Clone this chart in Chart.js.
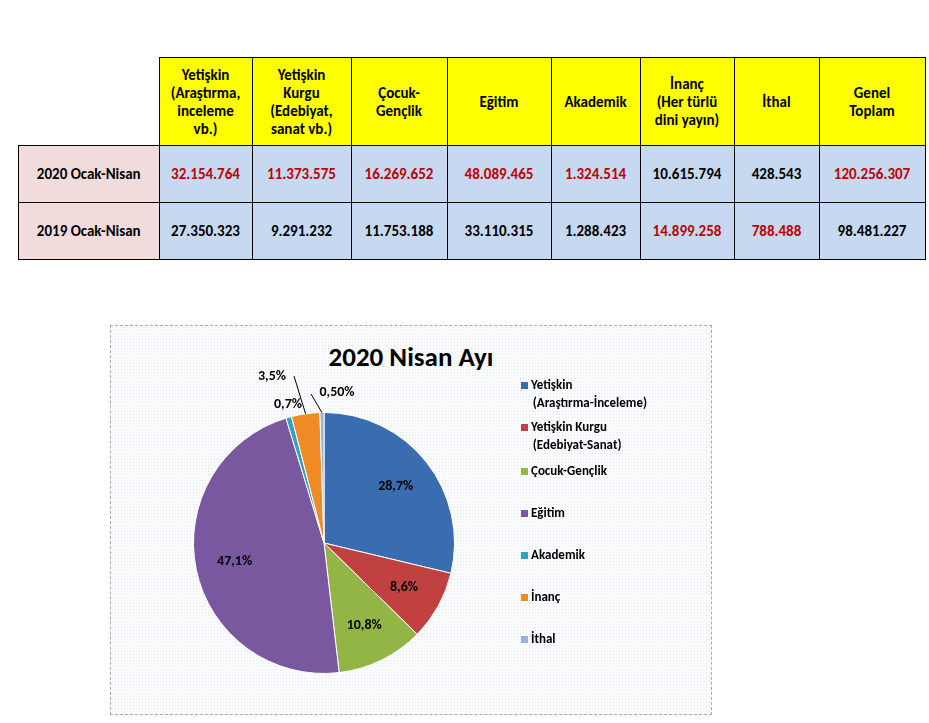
<!DOCTYPE html>
<html><head><meta charset="utf-8">
<script src="https://cdn.jsdelivr.net/npm/chart.js@4"></script>
<style>
body{margin:0;background:#fff;font-family:Calibri,Carlito,"Liberation Sans",Arial,sans-serif;width:929px;height:723px;position:relative;overflow:hidden}
table{position:absolute;left:18px;top:57px;border-collapse:collapse;font-weight:bold;font-size:15px}
td{border:1px solid #000;text-align:center;padding:0}
.h{background:#ffff00;height:87px}
.r{background:#f2dcdb}
.d{background:#c6d9f1}
.red{color:#c00000}
#box{position:absolute;left:110px;top:325px;width:600px;height:388px;border:1px dashed #aaa;
background-color:#fbfcfd;background-image:radial-gradient(#e4e8ee 0.6px,transparent 0.8px);background-size:3px 3px}
#title{position:absolute;left:0;width:600px;top:14px;text-align:center;font-size:27px;font-weight:bold}
#leg{position:absolute;left:410px;top:50px;font-size:13px;font-weight:bold;line-height:18px}
#leg div{position:absolute;white-space:nowrap}
#leg span{display:inline-block;width:7px;height:7px;margin-right:3px}
</style></head><body>
<table id="tbl"></table>
<div id="box">
<div id="title">2020 Nisan Ayı</div>
<div style="position:absolute;left:0;top:0;width:440px;height:388px"><canvas id="c"></canvas></div>
<div id="leg"></div>
</div>
<script>
const columns=["Yetişkin<br>(Araştırma,<br>inceleme<br>vb.)","Yetişkin<br>Kurgu<br>(Edebiyat,<br>sanat vb.)","Çocuk-<br>Gençlik","Eğitim","Akademik","İnanç<br>(Her türlü<br>dini yayın)","İthal","Genel<br>Toplam"];
const colWidths=[140,92,98,95,103,88,93,84,105];
const rowLabels=["2020 Ocak-Nisan","2019 Ocak-Nisan"];
const row2020=["32.154.764","11.373.575","16.269.652","48.089.465","1.324.514","10.615.794","428.543","120.256.307"];
const row2019=["27.350.323","9.291.232","11.753.188","33.110.315","1.288.423","14.899.258","788.488","98.481.227"];
const red2020=[1,1,1,1,1,0,0,1];
const red2019=[0,0,0,0,0,1,1,0];
let h='<tr><td style="border:none;border-right:1px solid #000;border-bottom:1px solid #000;width:'+colWidths[0]+'px"></td>';
columns.forEach((c,i)=>h+='<td class="h" style="width:'+colWidths[i+1]+'px">'+c+'</td>');
h+='</tr>';
[[row2020,red2020],[row2019,red2019]].forEach((r,k)=>{
 h+='<tr style="height:57px"><td class="r">'+rowLabels[k]+'</td>';
 r[0].forEach((v,i)=>h+='<td class="d'+(r[1][i]?' red':'')+'">'+v+'</td>');
 h+='</tr>';
});
document.getElementById('tbl').innerHTML=h;

const pieLabels=[["Yetişkin","(Araştırma-İnceleme)"],["Yetişkin Kurgu","(Edebiyat-Sanat)"],["Çocuk-Gençlik"],["Eğitim"],["Akademik"],["İnanç"],["İthal"]];
const pieValues=[28.7,8.6,10.8,47.1,0.7,3.5,0.5];
const pieText=["28,7%","8,6%","10,8%","47,1%","0,7%","3,5%","0,50%"];
const colors=["#3a6cb0","#c0413f","#93b546","#7a58a0","#32a2c0","#f08a24","#98b2d6"];
const legTops=[0,42,86,128,170,212,254];
let lg='';
pieLabels.forEach((l,i)=>{lg+='<div style="top:'+legTops[i]+'px"><span style="background:'+colors[i]+'"></span>'+l[0]+(l[1]?'<br>&nbsp;&nbsp;&nbsp;&nbsp;'+l[1]:'')+'</div>';});
document.getElementById('leg').innerHTML=lg;

const labelPlugin={id:'lbl',afterDraw(ch){
 const ctx=ch.ctx;const meta=ch.getDatasetMeta(0);
 ctx.save();ctx.font='bold 14px Calibri,Carlito,"Liberation Sans",Arial';ctx.fillStyle='#000';ctx.textAlign='center';ctx.textBaseline='middle';
 const outside={4:[177,78],5:[161,50],6:[226,66]};
 meta.data.forEach((a,i)=>{
  const m=(a.startAngle+a.endAngle)/2;
  if(outside[i]){
   const [x,y]=outside[i];
   ctx.fillText(pieText[i],x,y);
   const ex=a.x+Math.cos(m)*a.outerRadius, ey=a.y+Math.sin(m)*a.outerRadius;
   if(i!==4){ctx.strokeStyle='#000';ctx.lineWidth=1;ctx.beginPath();ctx.moveTo(ex,ey);ctx.lineTo(i==5?x+22:x-26,i==5?y:y+2);ctx.stroke();}
  }else{
   const r=a.outerRadius*0.7;
   ctx.fillText(pieText[i],a.x+Math.cos(m)*r,a.y+Math.sin(m)*r);
  }
 });
 ctx.restore();
}};
new Chart(document.getElementById('c'),{type:'pie',
 data:{labels:pieLabels.map(l=>l.join(' ')),datasets:[{data:pieValues,backgroundColor:colors,borderColor:'#fff',borderWidth:1}]},
 options:{responsive:true,maintainAspectRatio:false,animation:false,rotation:0,
  layout:{padding:{left:82,right:96,top:86,bottom:40}},
  plugins:{legend:{display:false},tooltip:{enabled:false}}},
 plugins:[labelPlugin]});
</script></body></html>
